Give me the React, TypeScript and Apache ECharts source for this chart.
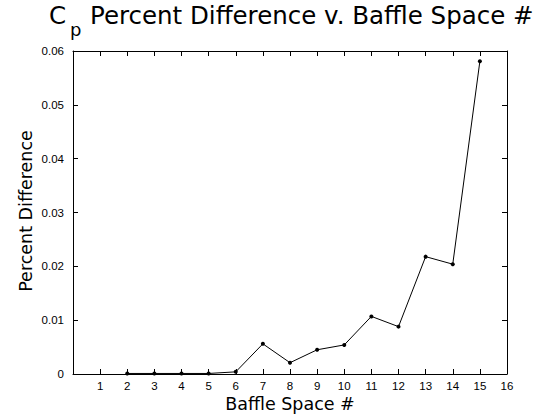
import React, { useEffect, useRef } from "react";
import * as echarts from "echarts";

const baffleSpaces = [2, 3, 4, 5, 6, 7, 8, 9, 10, 11, 12, 13, 14, 15];
const percentDiff = [0.0001, 0.0001, 0.0001, 0.0001, 0.0004, 0.0056, 0.0021, 0.0045, 0.0054, 0.0107, 0.0088, 0.0218, 0.0204, 0.0581];
const titleMain = "C";
const titleSub = "p";
const titleRest = "Percent Difference v. Baffle Space #";
const xLabel = "Baffle Space #";
const yLabel = "Percent Difference";

const FONT = "DejaVu Sans";
const TICK_FONT = "Liberation Sans";

export default function App() {
  const ref = useRef<HTMLDivElement>(null);
  useEffect(() => {
    document.body.style.margin = "0";
    const chart = echarts.init(ref.current!, null, { renderer: "svg" });
    const axisCommon = {
      type: "value" as const,
      axisLine: { show: true, onZero: false, lineStyle: { color: "#000", width: 1 } },
      axisTick: { show: true, inside: true, length: 5, lineStyle: { color: "#000", width: 1 } },
      splitLine: { show: false },
    };
    chart.setOption({
      animation: false,
      backgroundColor: "#fff",
      grid: { left: 73, right: 53, top: 51, bottom: 46, containLabel: false },
      xAxis: [
        {
          ...axisCommon,
          position: "bottom",
          min: 0,
          max: 16,
          interval: 1,
          axisLabel: {
            color: "#000",
            fontFamily: TICK_FONT,
            fontSize: 11.5,
            margin: 6,
            formatter: (v: number) => (v === 0 ? "" : String(v)),
          },
        },
        {
          ...axisCommon,
          position: "top",
          min: 0,
          max: 16,
          interval: 1,
          axisLabel: { show: false },
        },
      ],
      yAxis: [
        {
          ...axisCommon,
          position: "left",
          min: 0,
          max: 0.06,
          interval: 0.01,
          axisLabel: { color: "#000", fontFamily: TICK_FONT, fontSize: 11.5, margin: 9 },
        },
        {
          ...axisCommon,
          position: "right",
          min: 0,
          max: 0.06,
          interval: 0.01,
          axisLabel: { show: false },
        },
      ],
      series: [
        {
          type: "line",
          xAxisIndex: 0,
          yAxisIndex: 0,
          data: baffleSpaces.map((b, i) => [b, percentDiff[i]]),
          symbol: "circle",
          symbolSize: 4,
          itemStyle: { color: "#000" },
          lineStyle: { color: "#000", width: 1 },
        },
      ],
      graphic: [
        {
          type: "text",
          x: 49,
          y: 15,
          style: { text: titleMain, fontFamily: FONT, fontSize: 24.5, fill: "#000", verticalAlign: "middle" },
        },
        {
          type: "text",
          x: 70,
          y: 29.5,
          style: { text: titleSub, fontFamily: FONT, fontSize: 18, fill: "#000", verticalAlign: "middle" },
        },
        {
          type: "text",
          x: 90,
          y: 15,
          style: { text: titleRest, fontFamily: FONT, fontSize: 24.5, fill: "#000", verticalAlign: "middle" },
        },
        {
          type: "text",
          x: 290,
          y: 404,
          style: { text: xLabel, fontFamily: FONT, fontSize: 17.5, fill: "#000", align: "center", verticalAlign: "middle" },
        },
        {
          type: "text",
          x: 26,
          y: 211,
          rotation: Math.PI / 2,
          style: { text: yLabel, fontFamily: FONT, fontSize: 17.5, fill: "#000", align: "center", verticalAlign: "middle" },
        },
      ],
    });
    return () => chart.dispose();
  }, []);
  return <div ref={ref} style={{ position: "fixed", left: 0, top: 0, width: 560, height: 420 }} />;
}
